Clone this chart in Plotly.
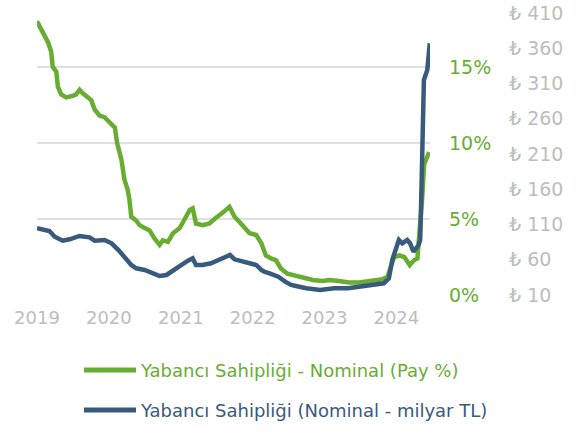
import plotly.graph_objects as go

# ---- data ----
pay_dates = ["2019-01-01","2019-01-24","2019-02-10","2019-02-27","2019-03-14","2019-03-22","2019-04-09","2019-04-17",
             "2019-05-04","2019-05-29","2019-07-02","2019-07-19","2019-08-05","2019-08-19","2019-09-17","2019-10-04",
             "2019-10-21","2019-11-15","2019-12-10","2020-01-05","2020-02-01","2020-02-12","2020-02-26","2020-03-05",
             "2020-03-20","2020-04-06","2020-04-15","2020-04-24","2020-05-19","2020-06-05","2020-07-01","2020-07-26",
             "2020-08-21","2020-09-15","2020-10-02","2020-10-27","2020-11-22","2020-12-26","2021-01-21","2021-02-15",
             "2021-03-02","2021-03-19","2021-04-22","2021-05-26","2021-06-21","2021-07-16","2021-08-10","2021-09-05",
             "2021-10-01","2021-10-26","2021-11-21","2021-12-16","2022-01-19","2022-02-14","2022-03-09","2022-04-04",
             "2022-04-29","2022-05-24","2022-06-27","2022-08-09","2022-09-12","2022-11-02","2022-12-22","2023-01-26",
             "2023-03-16","2023-05-06","2023-06-26","2023-08-16","2023-09-19","2023-10-22","2023-11-17","2023-12-04",
             "2023-12-21","2024-01-16","2024-02-10","2024-03-09","2024-04-01","2024-04-17","2024-04-26","2024-05-12",
             "2024-05-21","2024-06-07","2024-06-16"]
pay_pct = [18.0,17.4,17.0,16.6,16.0,15.0,14.7,13.7,
           13.2,13.0,13.1,13.2,13.5,13.3,13.0,12.8,
           12.2,11.8,11.7,11.4,11.0,10.0,9.4,8.9,
           7.6,6.9,6.25,5.15,4.9,4.6,4.4,4.25,
           3.7,3.3,3.6,3.5,4.06,4.4,5.0,5.6,
           5.7,4.7,4.6,4.7,5.0,5.3,5.5,5.8,
           5.15,4.8,4.4,4.06,3.95,3.4,2.6,2.4,
           2.3,1.75,1.4,1.25,1.14,0.99,0.92,0.99,
           0.92,0.83,0.83,0.92,0.99,1.03,1.2,1.86,
           2.5,2.6,2.5,1.97,2.3,2.4,3.8,6.5,
           8.6,9.1,9.4]

tl_dates = ["2019-01-01","2019-02-02","2019-03-05","2019-04-01","2019-05-12","2019-06-16","2019-08-05","2019-09-25",
            "2019-10-21","2019-12-10","2020-01-15","2020-02-19","2020-03-25","2020-04-24","2020-05-19","2020-07-01",
            "2020-08-13","2020-09-15","2020-10-20","2020-11-22","2020-12-26","2021-02-06","2021-03-02","2021-03-19",
            "2021-04-22","2021-06-03","2021-06-29","2021-08-10","2021-09-08","2021-10-01","2021-11-11","2021-12-16",
            "2022-01-19","2022-02-14","2022-03-01","2022-03-28","2022-05-11","2022-06-15","2022-07-16","2022-08-09",
            "2022-09-30","2022-12-10","2023-02-19","2023-04-30","2023-07-08","2023-09-16","2023-10-29","2023-11-24",
            "2023-12-11","2023-12-28","2024-01-14","2024-01-31","2024-02-25","2024-03-11","2024-03-28","2024-04-23",
            "2024-05-01","2024-05-04","2024-05-12","2024-05-20","2024-06-06","2024-06-19"]
tl_bn = [104.6,103.2,100.8,92.7,87.0,89.0,93.7,91.8,
         87.0,88.0,83.3,73.8,62.1,52.6,47.9,45.5,
         40.8,37.0,38.4,45.5,51.1,58.7,62.1,52.6,
         52.6,55.0,58.2,62.1,66.7,60.6,58.2,55.0,
         52.6,45.5,43.0,40.8,36.0,28.9,24.2,22.8,
         19.5,17.1,19.5,19.5,21.8,24.2,26.6,33.7,
         59.6,73.8,88.0,83.3,88.0,83.3,71.4,80.9,
         88.0,116.4,211.0,315.0,329.0,367.0]

year_ticks = ["2019-01-01","2020-01-01","2021-01-01","2022-01-01","2023-01-01","2024-01-01"]
year_labels = ["2019","2020","2021","2022","2023","2024"]
pct_ticks = [0, 5, 10, 15]
pct_labels = ["0%", "5%", "10%", "15%"]
tl_ticks = [10, 60, 110, 160, 210, 260, 310, 360, 410]
tl_labels = ["₺ " + str(v) for v in tl_ticks]

name_pay = "Yabancı Sahipliği - Nominal (Pay %)"
name_tl = "Yabancı Sahipliği (Nominal - milyar TL)"

GREEN = "#68ad32"
BLUE = "#385a7c"
GRAY = "#bdbdbd"
FONT = "'DejaVu Sans', 'Noto Sans', sans-serif"

W, H = 580, 434
PLOT_L, PLOT_R, PLOT_T, PLOT_B = 37, 430, 13, 295      # plot area in page pixels
ML = PLOT_L
MT = PLOT_T
MB = H - PLOT_B
MR = 6
PW = W - ML - MR
PH = H - MT - MB

def px_x(p):
    return (p - ML) / PW

def px_y(p):
    return (H - MB - p) / PH

fig = go.Figure()
fig.add_trace(go.Scatter(x=pay_dates, y=pay_pct, mode="lines", name=name_pay,
                         line=dict(color=GREEN, width=4.5), yaxis="y", showlegend=False))
fig.add_trace(go.Scatter(x=tl_dates, y=tl_bn, mode="lines", name=name_tl,
                         line=dict(color=BLUE, width=4.5), yaxis="y2", showlegend=False))

# manual legend
for py, col, txt in [(370, GREEN, name_pay), (410, BLUE, name_tl)]:
    fig.add_shape(type="line", xref="paper", yref="paper",
                  x0=px_x(84), x1=px_x(136), y0=px_y(py), y1=px_y(py),
                  line=dict(color=col, width=5))
    fig.add_annotation(xref="paper", yref="paper", x=px_x(138), y=px_y(py),
                       text=txt, showarrow=False, xanchor="left", yanchor="middle",
                       font=dict(family=FONT, size=18, color=col))

fig.update_layout(
    width=W, height=H,
    margin=dict(l=ML, r=MR, t=MT, b=MB, autoexpand=False),
    paper_bgcolor="white", plot_bgcolor="white",
    showlegend=False,
    xaxis=dict(domain=[0, px_x(PLOT_R)], range=["2019-01-01", "2024-06-20"], automargin=False,
               tickvals=year_ticks, ticktext=year_labels, showgrid=False, zeroline=False,
               showline=False, ticks="", ticklabelstandoff=10,
               tickfont=dict(family=FONT, size=18, color=GRAY)),
    yaxis=dict(range=[0, 18.55], side="right", anchor="x", tickvals=pct_ticks, ticktext=pct_labels,
               automargin=False,
               showgrid=True, gridcolor="#e0e0e0", gridwidth=2, zeroline=False, showline=False,
               ticks="", ticklabelstandoff=18,
               tickfont=dict(family=FONT, size=19, color=GREEN)),
    yaxis2=dict(range=[10, 410], overlaying="y", side="right", anchor="free", automargin=False,
                position=px_x(501), tickvals=tl_ticks, ticktext=tl_labels, ticklabeloverflow="allow",
                showgrid=False, zeroline=False, showline=False, ticks="", ticklabelstandoff=7,
                tickfont=dict(family=FONT, size=19, color=GRAY)),
)

fig.write_html("out.html", config={"displayModeBar": False},
               post_script="document.body.style.margin='0px';")
